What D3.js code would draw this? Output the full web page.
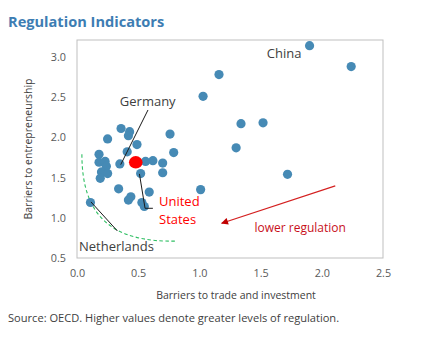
<!DOCTYPE html>
<html>
<head>
<meta charset="utf-8">
<script src="https://cdn.jsdelivr.net/npm/d3@7"></script>
<style>
  body { margin: 0; background: #fff; }
  svg text { font-family: "Open Sans", "Noto Sans", sans-serif; }
</style>
</head>
<body>
<div id="chart"></div>
<script>
// Barriers to trade (x) vs barriers to entrepreneurship (y), one dot per country
var tradeBarriers = [
    1.90, 2.24, 1.16, 1.03, 1.34, 1.52, 1.30, 1.72, 1.01,
    0.76, 0.79, 0.70, 0.70, 0.62, 0.56, 0.52, 0.59, 0.53, 0.55,
    0.36, 0.43, 0.42, 0.25, 0.49, 0.41, 0.18, 0.18, 0.23, 0.24,
    0.35, 0.20, 0.25, 0.19, 0.34, 0.44, 0.42, 0.11
];
var entryBarriers = [
    3.14, 2.88, 2.78, 2.51, 2.17, 2.18, 1.87, 1.54, 1.35,
    2.04, 1.81, 1.68, 1.56, 1.71, 1.70, 1.55, 1.32, 1.19, 1.14,
    2.11, 2.07, 2.02, 1.98, 1.91, 1.82, 1.79, 1.69, 1.70, 1.64,
    1.67, 1.57, 1.55, 1.49, 1.36, 1.26, 1.22, 1.19
];
// highlighted country
var usTrade = 0.48, usEntry = 1.69;

var xTicks = [0, 0.5, 1, 1.5, 2, 2.5];
var yTicks = [0.5, 1, 1.5, 2, 2.5, 3];

var W = 426, H = 342;
var plot = { left: 77, right: 383, top: 40, bottom: 258 };

var svg = d3.select("#chart").append("svg")
    .attr("width", W).attr("height", H);

svg.append("rect").attr("width", W).attr("height", H).attr("fill", "#fff");

var x = d3.scaleLinear().domain([0, 2.5]).range([plot.left, plot.right]);
var y = d3.scaleLinear().domain([0.5, 3.21]).range([plot.bottom, plot.top]);

// title
svg.append("text")
    .attr("x", 8).attr("y", 27)
    .attr("font-size", "14.6px")
    .attr("font-weight", "bold")
    .attr("fill", "#3d7db3")
    .text("Regulation Indicators");

// plot frame
svg.append("rect")
    .attr("x", plot.left).attr("y", plot.top)
    .attr("width", plot.right - plot.left)
    .attr("height", plot.bottom - plot.top)
    .attr("fill", "none")
    .attr("stroke", "#bfbfbf");

var xAxis = svg.append("g")
    .attr("transform", "translate(0," + plot.bottom + ")")
    .call(d3.axisBottom(x).tickValues(xTicks).tickSize(0).tickPadding(11)
        .tickFormat(d3.format(".1f")));
var yAxis = svg.append("g")
    .attr("transform", "translate(" + plot.left + ",0)")
    .call(d3.axisLeft(y).tickValues(yTicks).tickSize(0).tickPadding(11)
        .tickFormat(d3.format(".1f")));

[xAxis, yAxis].forEach(function (g) {
    g.select(".domain").remove();
    g.selectAll("text")
        .attr("fill", "#595959")
        .attr("font-size", "10.8px")
        .attr("font-family", "\"Open Sans\", sans-serif");
});

// axis titles
svg.append("text")
    .attr("x", 236).attr("y", 299)
    .attr("text-anchor", "middle")
    .attr("font-size", "10.5px")
    .attr("fill", "#404040")
    .text("Barriers to trade and investment");

svg.append("text")
    .attr("transform", "translate(32," + ((plot.top + plot.bottom) / 2) + ") rotate(-90)")
    .attr("text-anchor", "middle")
    .attr("font-size", "10.5px")
    .attr("fill", "#404040")
    .text("Barriers to entrepreneurship");

// green dashed boundary
var arcPts = [[0.04, 1.79], [0.04, 1.04], [0.27, 0.69], [0.82, 0.71]];
svg.append("path")
    .attr("d", "M" + x(arcPts[0][0]) + "," + y(arcPts[0][1]) +
        "C" + arcPts.slice(1).map(function (p) { return x(p[0]) + "," + y(p[1]); }).join(" "))
    .attr("fill", "none")
    .attr("stroke", "#2fbf63")
    .attr("stroke-width", 1.1)
    .attr("stroke-dasharray", "3.5,2.5");

// dots
svg.selectAll("circle.country")
    .data(tradeBarriers)
    .enter()
    .append("circle")
    .attr("class", "country")
    .attr("cx", function (d) { return x(d); })
    .attr("cy", function (d, i) { return y(entryBarriers[i]); })
    .attr("r", 4.6)
    .attr("fill", "#468ab5");

svg.append("ellipse")
    .attr("cx", x(usTrade)).attr("cy", y(usEntry))
    .attr("rx", 6.8).attr("ry", 6.2)
    .attr("fill", "#ff0000");

// leader lines
var leaders = [
    [[0.58, 2.34], [0.357, 1.66]],
    [[0.51, 1.545], [0.556, 1.118], [0.62, 1.118]],
    [[0.114, 1.197], [0.33, 0.836]]
];
var line = d3.line().x(function (d) { return x(d[0]); }).y(function (d) { return y(d[1]); });
svg.selectAll("path.leader")
    .data(leaders)
    .enter()
    .append("path")
    .attr("class", "leader")
    .attr("d", line)
    .attr("fill", "none")
    .attr("stroke", "#1a1a1a")
    .attr("stroke-width", 1);

// arrow
svg.append("defs").append("marker")
    .attr("id", "head")
    .attr("viewBox", "0 0 10 10")
    .attr("refX", 9).attr("refY", 5)
    .attr("markerWidth", 9).attr("markerHeight", 7)
    .attr("markerUnits", "userSpaceOnUse")
    .attr("orient", "auto")
    .append("path")
    .attr("d", "M0,0L10,5L0,10Z")
    .attr("fill", "#c00000");

svg.append("path")
    .attr("d", line([[2.11, 1.396], [1.182, 0.932]]))
    .attr("stroke", "#d42020")
    .attr("stroke-width", 1.2)
    .attr("marker-end", "url(#head)");

// annotations
var labels = [
    { text: "China", x: 1.55, y: 2.99, color: "#404040" },
    { text: "Germany", x: 0.35, y: 2.39, color: "#404040" },
    { text: "Netherlands", x: 0.016, y: 0.59, color: "#404040" },
    { text: "United", x: 0.67, y: 1.147, color: "#ff0000" },
    { text: "States", x: 0.67, y: 0.923, color: "#ff0000" },
    { text: "lower regulation", x: 1.45, y: 0.823, color: "#c8101a" }
];
svg.selectAll("text.note")
    .data(labels)
    .enter()
    .append("text")
    .attr("class", "note")
    .attr("x", function (d) { return x(d.x); })
    .attr("y", function (d) { return y(d.y); })
    .attr("font-size", function (d) { return d.text === "lower regulation" ? "12px" : "13px"; })
    .attr("fill", function (d) { return d.color; })
    .text(function (d) { return d.text; });

// source line
svg.append("text")
    .attr("x", 8).attr("y", 322)
    .attr("font-size", "11.1px")
    .attr("fill", "#404040")
    .text("Source: OECD. Higher values denote greater levels of regulation.");
</script>
</body>
</html>
